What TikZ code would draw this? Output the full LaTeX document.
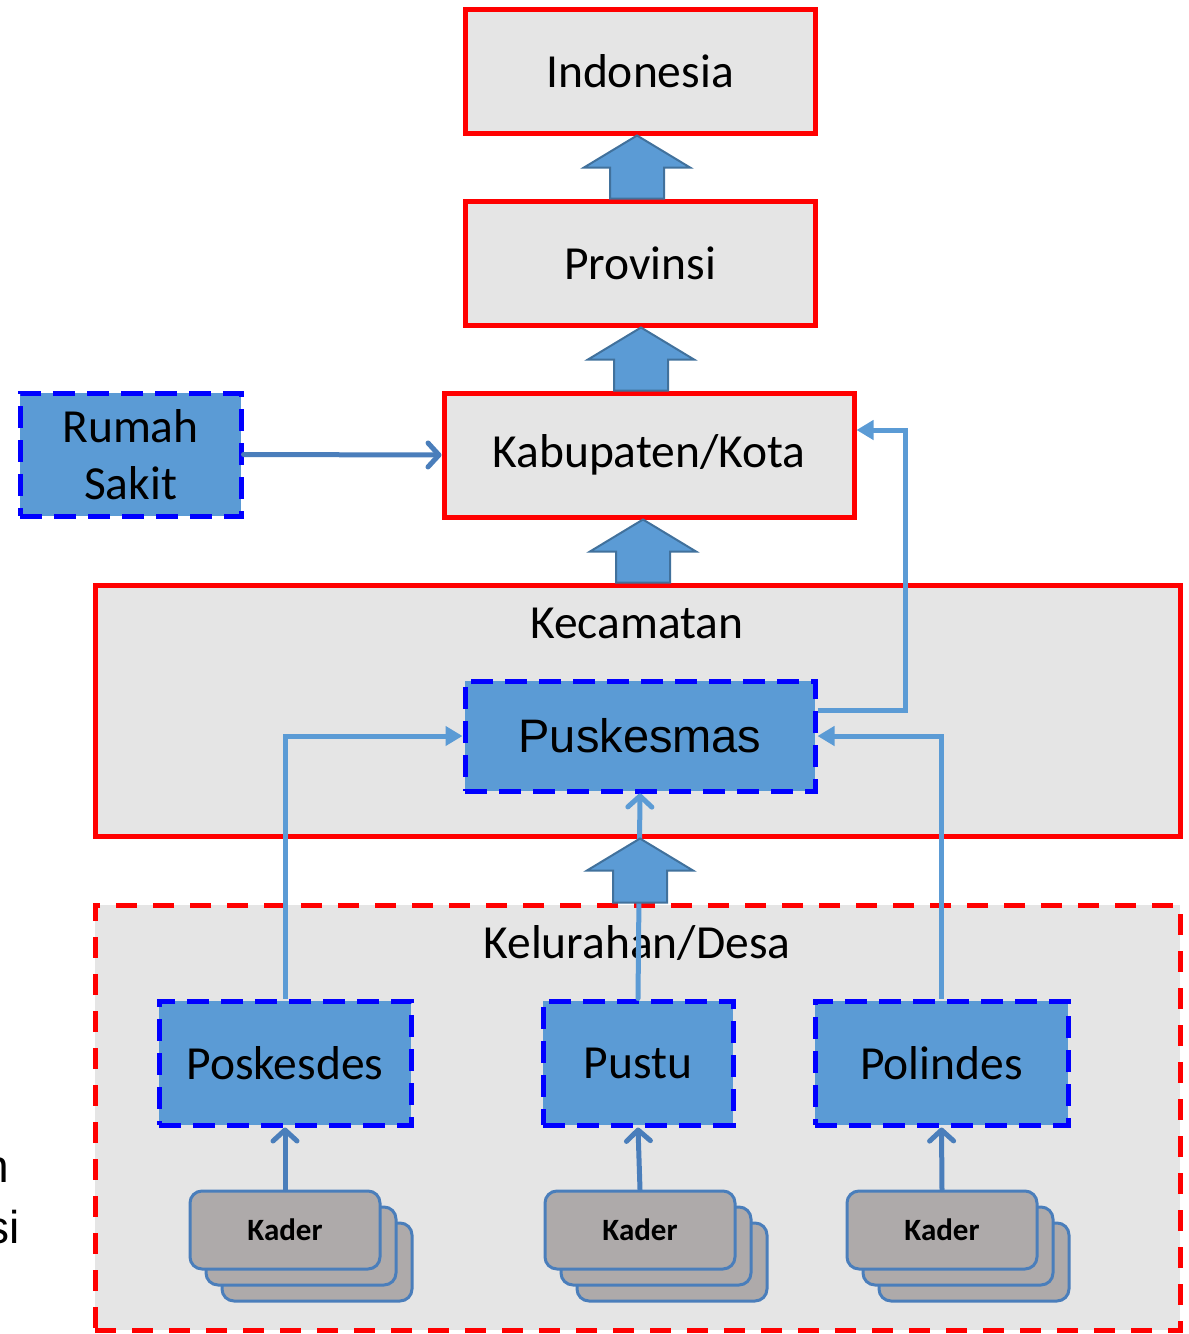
\documentclass[tikz,border=0pt]{standalone}
\usepackage{fontspec}
\setmainfont{Carlito}
\newfontfamily\arialf{Liberation Sans}
\usetikzlibrary{arrows.meta,calc}
\definecolor{redb}{HTML}{FF0000}
\definecolor{greyf}{HTML}{E5E5E5}
\definecolor{bluef}{HTML}{5B9BD5}
\definecolor{blued}{HTML}{0000FF}
\definecolor{arrowb}{HTML}{41719C}
\definecolor{connB}{HTML}{4A7EBB}
\definecolor{kaderf}{HTML}{AEAAAA}
\newcommand\blockarrow[3]{%
  \coordinate (tip) at (#3,0 |- #1.south);
  \coordinate (bas) at (#3,0 |- #2.north);
  \draw[blockarr] (tip) -- ($(tip)+(53,32)$) -- ($(tip)+(27,32)$) -- ($(bas)+(27,0)$)
    -- ($(bas)+(-27,0)$) -- ($(tip)+(-27,32)$) -- ($(tip)+(-53,32)$) -- cycle;}
\begin{document}
\begin{tikzpicture}[x=1pt,y=-1pt,
  bigtxt/.style={font=\fontsize{47.5}{57}\selectfont},
  redbox/.style={draw=redb, line width=5pt, fill=greyf, inner sep=0pt},
  reddash/.style={draw=redb, line width=5pt, fill=greyf, inner sep=0pt, dash pattern=on 21pt off 16pt},
  bluebox/.style={draw=blued, line width=5pt, dash pattern=on 22pt off 12pt, fill=bluef, inner sep=0pt, bigtxt, align=center},
  kader/.style={draw=connB, line width=3pt, fill=kaderf, rounded corners=12pt, minimum width=190, minimum height=78, inner sep=0pt, font=\bfseries\fontsize{31}{37}\selectfont},
  blockarr/.style={draw=arrowb, line width=2pt, fill=bluef, line join=miter},
  conn/.style={draw=bluef, line width=5pt, -{Triangle[length=17pt,width=19pt]}},
  barb/.style={draw=connB, line width=5pt, line cap=round, -{Straight Barb[length=11pt,width=24pt,round]}},
  barbl/.style={draw=bluef, line width=5pt, line cap=round, -{Straight Barb[length=11pt,width=24pt,round]}},
  title/.style={inner sep=0pt, bigtxt}
]
\useasboundingbox (0,0) rectangle (1189,1334);

% boxes
\node[redbox, bigtxt, minimum width=350, minimum height=124] (indo) at (640,71) {Indonesia};
\node[redbox, bigtxt, minimum width=350, minimum height=124] (prov) at (640,263) {Provinsi};
\node[redbox, bigtxt, minimum width=410, minimum height=124] (kab) at (649,455) {Kabupaten/Kota};
\node[bluebox, minimum width=221, minimum height=123] (rs) at (130.5,454.5) {Rumah\\Sakit};

\node[redbox, minimum width=1085, minimum height=251] (kec) at (637.5,710.5) {};
\node[title] (kectitle) at (637,623) {Kecamatan};
\node[bluebox, font=\arialf\fontsize{47}{57}\selectfont, minimum width=350, minimum height=110] (pusk) at (640,736) {Puskesmas};

\node[reddash, minimum width=1085, minimum height=425] (kel) at (637.5,1117.5) {};
\node[title] (keltitle) at (637,943) {Kelurahan/Desa};
\node[bluebox, minimum width=252, minimum height=124] (posk) at (285,1063) {Poskesdes};
\node[bluebox, minimum width=190, minimum height=124] (pustu) at (638,1063) {Pustu};
\node[bluebox, minimum width=253, minimum height=124] (pol) at (941.5,1063) {Polindes};

% kader stacks
\node[kader] (k1c) at (317,1262) {};
\node[kader] (k1b) at (301,1246) {};
\node[kader] (k1) at (285,1230) {Kader};
\node[kader] (k2c) at (672,1262) {};
\node[kader] (k2b) at (656,1246) {};
\node[kader] (k2) at (640,1230) {Kader};
\node[kader] (k3c) at (974,1262) {};
\node[kader] (k3b) at (958,1246) {};
\node[kader] (k3) at (942,1230) {Kader};

% left fragments
\node[font=\arialf\fontsize{46}{55}\selectfont, anchor=base east, inner sep=0pt] (frag1) at (9,1182) {n};
\node[font=\arialf\fontsize{46}{55}\selectfont, anchor=base east, inner sep=0pt] (frag2) at (20,1243) {si};

% connectors
\draw[barb] (rs.east) -- (kab.west);
\draw[conn] ([yshift=26pt]pusk.east) -- ++(88,0) |- ([yshift=25pt]kab.east);
\draw[conn] (posk.north) |- (pusk.west);
\draw[conn] (pol.north) |- (pusk.east);
\draw[barbl] (pustu.north) -- (pusk.south);
\draw[barb] (k1.north) -- (posk.south);
\draw[barb] (k2.north) -- (pustu.south);
\draw[barb] (k3.north) -- (pol.south);

% block arrows
\blockarrow{indo}{prov}{637}
\blockarrow{prov}{kab}{641}
\blockarrow{kab}{kec}{643}
\blockarrow{kec}{kel}{640}
\end{tikzpicture}
\end{document}
